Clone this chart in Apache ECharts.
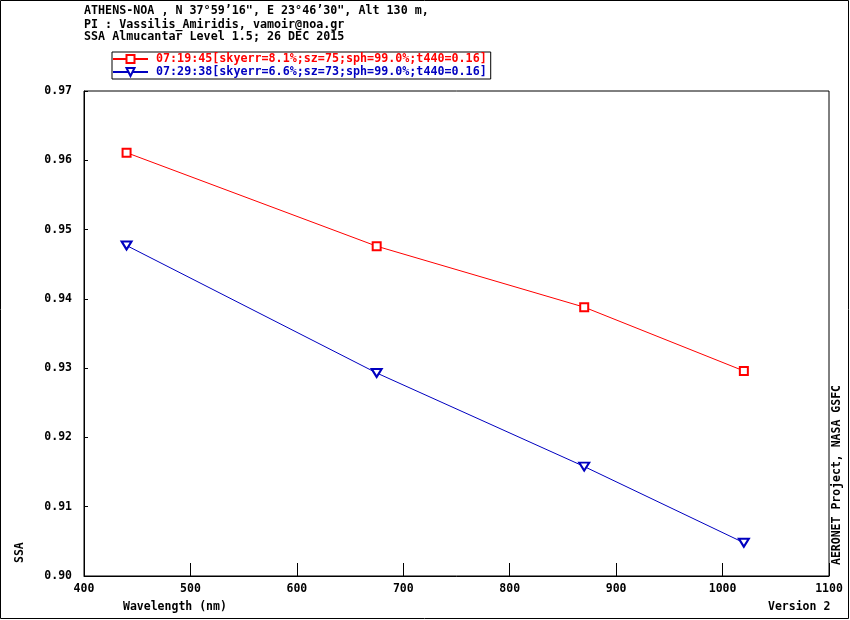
<!DOCTYPE html>
<html>
<head>
<meta charset="utf-8">
<script src="https://cdn.jsdelivr.net/npm/echarts@6/dist/echarts.min.js"></script>
<style>
  html, body { margin: 0; padding: 0; background: #fff; }
  #chart { width: 850px; height: 620px; }
</style>
</head>
<body>
<div id="chart"></div>
<script>
// wavelengths (nm)
var wavelengths = [440, 675, 870, 1020];
// single scattering albedo per almucantar scan
var ssaScan1 = [0.9611, 0.9476, 0.9388, 0.9296];
var ssaScan2 = [0.9477, 0.9293, 0.9158, 0.9048];
var scanNames = [
  '07:19:45[skyerr=8.1%;sz=75;sph=99.0%;t440=0.16]',
  '07:29:38[skyerr=6.6%;sz=73;sph=99.0%;t440=0.16]'
];
var headerLines = [
  'ATHENS-NOA , N 37°59’16", E 23°46’30", Alt 130 m,',
  'PI : Vassilis_Amiridis, vamoir@noa.gr',
  'SSA Almucantar Level 1.5; 26 DEC 2015'
];

function pairs(xs, ys) {
  return xs.map(function (x, i) { return [x, ys[i]]; });
}

var mono = '"DejaVu Sans Mono", monospace';
var red = '#ff0000';
var blue = '#0000c0';

var chart = echarts.init(document.getElementById('chart'));

var option = {
  backgroundColor: '#fff',
  animation: false,
  grid: { left: 84, right: 21, top: 91, bottom: 44, show: true, borderColor: '#000', borderWidth: 1 },
  legend: {
    left: 112, top: 52,
    orient: 'vertical',
    borderColor: '#000', borderWidth: 1,
    padding: [1, 4, 1, 0],
    itemGap: 1,
    itemWidth: 35, itemHeight: 10,
    textStyle: { fontFamily: mono, fontWeight: 'bold', fontSize: 11.7, padding: [0, 0, 0, 3] },
    data: [
      { name: scanNames[0], textStyle: { color: red } },
      { name: scanNames[1], textStyle: { color: blue } }
    ]
  },
  xAxis: {
    type: 'value', min: 400, max: 1100, interval: 100,
    axisLine: { lineStyle: { color: '#000' } },
    axisTick: { inside: true, length: 13, lineStyle: { color: '#000' } },
    splitLine: { show: false },
    axisLabel: {
      color: '#000', fontFamily: mono, fontWeight: 'bold', fontSize: 11.5, margin: 7,
      formatter: function (v) { return String(v); }
    }
  },
  yAxis: {
    type: 'value', min: 0.90, max: 0.97, interval: 0.01,
    axisLine: { lineStyle: { color: '#000' } },
    axisTick: { inside: true, length: 4, lineStyle: { color: '#000' } },
    splitLine: { show: false },
    axisLabel: {
      color: '#000', fontFamily: mono, fontWeight: 'bold', fontSize: 11.5, margin: 12,
      formatter: function (v) { return v.toFixed(2); }
    }
  },
  series: [
    {
      name: scanNames[0], type: 'line', data: pairs(wavelengths, ssaScan1),
      symbol: 'emptyRect', symbolSize: 8,
      lineStyle: { color: red, width: 1 },
      itemStyle: { color: red, borderWidth: 0.8 }
    },
    {
      name: scanNames[1], type: 'line', data: pairs(wavelengths, ssaScan2),
      symbol: 'emptyTriangle', symbolSize: [10, 8], symbolRotate: 180,
      lineStyle: { color: blue, width: 1 },
      itemStyle: { color: blue, borderWidth: 0.8 }
    }
  ],
  graphic: [
    { type: 'rect', shape: { x: 0.5, y: 0.5, width: 848, height: 618 }, style: { fill: 'none', stroke: '#000', lineWidth: 1 } },
    { type: 'text', left: 84, top: 4.5, style: { text: headerLines[0], font: 'bold 11.7px ' + mono, fill: '#000' } },
    { type: 'text', left: 84, top: 19, style: { text: headerLines[1], font: 'bold 11.7px ' + mono, fill: '#000' } },
    { type: 'text', left: 84, top: 31, style: { text: headerLines[2], font: 'bold 11.7px ' + mono, fill: '#000' } },
    { type: 'text', left: 123, top: 601, style: { text: 'Wavelength (nm)', font: 'bold 11.5px ' + mono, fill: '#000' } },
    { type: 'text', left: 768, top: 601, style: { text: 'Version 2', font: 'bold 11.5px ' + mono, fill: '#000' } },
    { type: 'text', x: 14, y: 563, rotation: Math.PI / 2, style: { text: 'SSA', font: 'bold 11.5px ' + mono, fill: '#000' } },
    { type: 'text', x: 831, y: 565, rotation: Math.PI / 2, style: { text: 'AERONET Project, NASA GSFC', font: 'bold 11.5px ' + mono, fill: '#000' } }
  ]
};

chart.setOption(option);
</script>
</body>
</html>
